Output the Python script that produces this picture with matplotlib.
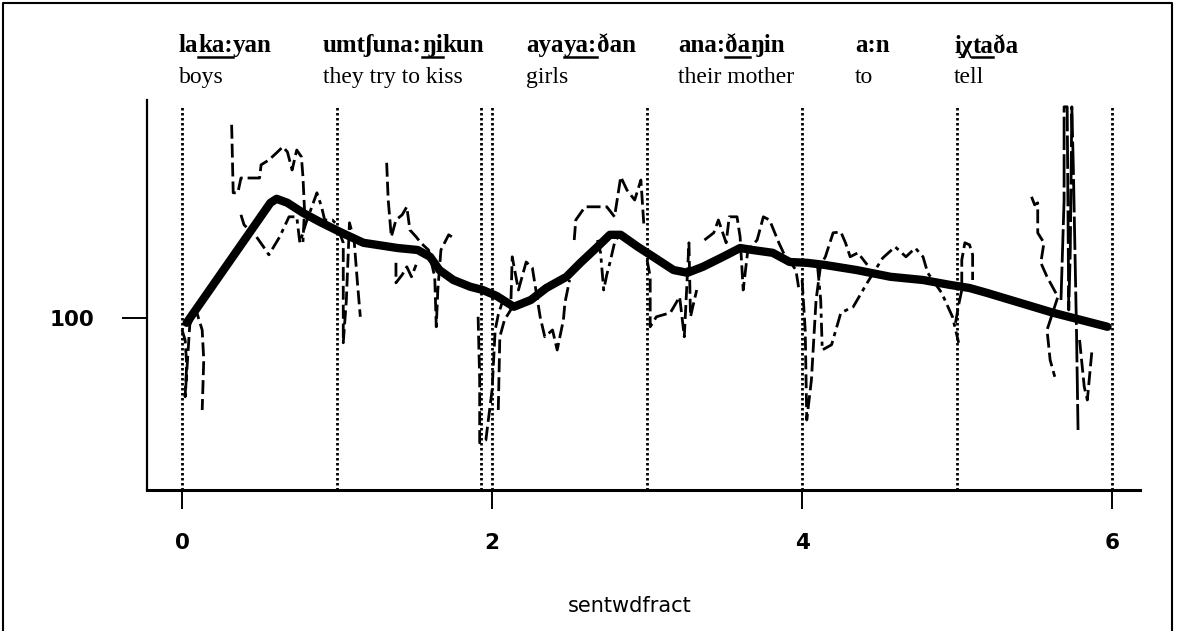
import matplotlib
matplotlib.use('Agg')
import matplotlib.pyplot as plt
from matplotlib.lines import Line2D

# word boundaries (sentence word fraction) and header text
boundaries = [0.0, 1.0, 1.93, 2.0, 3.0, 4.0, 5.0, 6.0]
words = [('la', 'ka:', 'yan'), ('umtʃuna:', 'ŋi', 'kun'), ('aya', 'ya:', 'ðan'),
         ('ana:', 'ða', 'ŋin'), ('a:n', '', ''), ('i̧χ', 'ta', 'ða')]
glosses = ['boys', 'they try to kiss', 'girls', 'their mother', 'to', 'tell']
word_x = [-0.02, 0.91, 2.22, 3.20, 4.34, 4.98]

# smoothed F0 contour
smooth_x = [0.03, 0.48, 0.57, 0.61, 0.68, 0.78, 0.89, 1.02, 1.17, 1.39, 1.52, 1.60,
            1.66, 1.75, 1.86, 1.94, 2.03, 2.14, 2.25, 2.35, 2.48, 2.57, 2.68, 2.76,
            2.83, 2.94, 3.04, 3.17, 3.26, 3.36, 3.49, 3.60, 3.68, 3.81, 3.92, 4.03,
            4.14, 4.35, 4.57, 4.78, 4.95, 5.08, 5.19, 5.62, 5.97]
smooth_y = [98.8, 123.8, 128.8, 129.8, 128.8, 126.3, 124.0, 121.5, 118.8, 117.5, 117.0, 115.3,
            112.0, 109.5, 107.8, 107.0, 105.5, 102.8, 104.5, 107.5, 110.3, 113.8, 117.8, 120.8,
            120.8, 117.8, 115.3, 112.0, 111.3, 112.8, 115.3, 117.5, 117.0, 116.3, 114.0, 113.8,
            113.3, 112.0, 110.3, 109.5, 108.3, 107.5, 106.3, 101.3, 97.8]

# raw F0 traces (dashed)
dash_x = [
    [0.0, 0.02, 0.03, 0.02, 0.05, 0.09, 0.13, 0.14, 0.13],
    [0.32, 0.33, 0.36, 0.38, 0.50, 0.51, 0.56, 0.61, 0.65, 0.68, 0.71, 0.74, 0.77, 0.78, 0.79, 0.78],
    [1.01, 1.04, 1.04, 1.06, 1.08, 1.11, 1.13, 1.15],
    [1.32, 1.33, 1.35, 1.38, 1.42, 1.45, 1.47, 1.51, 1.54, 1.59, 1.63, 1.64, 1.65, 1.67, 1.72, 1.74],
    [1.38, 1.38, 1.42, 1.45, 1.48, 1.51],
    [1.91, 1.92, 1.92, 1.96, 2.0, 2.02, 2.04, 2.07],
    [2.04, 2.05, 2.08, 2.12, 2.13, 2.17, 2.22, 2.26, 2.31, 2.34, 2.39, 2.42, 2.46, 2.47, 2.5],
    [2.53, 2.54, 2.60, 2.68, 2.74, 2.79, 2.83, 2.87, 2.92, 2.96, 2.98],
    [3.0, 3.02, 3.02, 3.06, 3.15, 3.21, 3.24, 3.27, 3.28, 3.32],
    [3.37, 3.43, 3.46, 3.51, 3.53, 3.58, 3.60, 3.62, 3.65, 3.71, 3.75, 3.79, 3.85, 3.88, 3.96, 3.98],
    [4.0, 4.02, 4.03, 4.06, 4.09, 4.12, 4.15, 4.20, 4.25, 4.28, 4.31, 4.36, 4.42],
    [4.99, 5.01, 5.03, 5.03, 5.05, 5.08, 5.10, 5.10],
    [5.48, 5.50, 5.52, 5.52, 5.56, 5.54, 5.58, 5.65, 5.58, 5.60, 5.63],
    [5.79, 5.82, 5.84, 5.87],
]
dash_y = [
    [97.0, 94.5, 88.3, 80.3, 98.3, 102.0, 97.0, 89.5, 77.0],
    [148.3, 131.3, 131.3, 135.0, 135.0, 138.3, 139.5, 141.3, 142.8, 141.5, 137.0, 142.0, 140.3, 135.3, 127.0, 119.0],
    [122.0, 118.8, 93.8, 104.5, 123.8, 119.5, 109.5, 100.3],
    [138.8, 129.5, 120.3, 124.5, 125.8, 127.8, 122.0, 120.3, 118.8, 117.0, 110.3, 97.8, 107.0, 117.0, 120.8, 120.3],
    [113.8, 108.8, 110.8, 112.8, 110.3, 113.3],
    [100.3, 84.5, 68.8, 69.5, 82.0, 97.0, 100.8, 104.5],
    [77.0, 95.3, 99.5, 102.0, 115.3, 107.0, 114.0, 112.5, 100.3, 95.3, 97.0, 92.0, 99.5, 103.8, 109.5],
    [119.5, 124.5, 127.8, 127.8, 127.8, 125.3, 135.3, 132.0, 129.5, 134.5, 122.8],
    [114.5, 110.3, 97.8, 100.3, 101.3, 105.3, 95.3, 118.8, 100.3, 107.0],
    [119.5, 121.3, 124.5, 118.8, 125.3, 125.3, 120.3, 107.0, 117.0, 119.5, 125.3, 124.5, 118.8, 116.3, 112.0, 107.0],
    [109.5, 97.0, 74.5, 84.5, 104.5, 113.3, 115.3, 121.3, 121.5, 118.8, 115.3, 116.3, 113.3],
    [98.8, 103.3, 107.0, 114.5, 118.8, 118.3, 115.8, 109.5],
    [130.3, 128.3, 128.8, 121.3, 118.8, 113.8, 110.3, 105.3, 97.0, 89.5, 85.3],
    [94.5, 82.8, 79.5, 92.0],
]

# raw F0 traces (dash-dot)
dashdot_x = [
    [0.38, 0.40, 0.48, 0.54, 0.56, 0.63, 0.69, 0.74, 0.76, 0.80, 0.87, 0.90, 0.92, 0.97, 1.0],
    [2.68, 2.70, 2.72, 2.74, 2.76, 2.79, 2.82],
    [4.10, 4.12, 4.13, 4.19, 4.25, 4.33, 4.42, 4.52, 4.60, 4.67, 4.73, 4.78, 4.81, 4.90, 4.97, 5.01],
]
dashdot_y = [
    [125.8, 123.3, 120.3, 117.0, 115.8, 120.3, 125.3, 125.3, 118.8, 123.8, 131.3, 127.8, 124.5, 124.5, 123.3],
    [119.5, 116.3, 107.0, 110.8, 113.8, 118.8, 120.8],
    [112.8, 104.5, 92.0, 93.3, 101.3, 102.8, 108.8, 115.0, 117.8, 115.3, 117.5, 115.3, 111.3, 106.3, 100.3, 93.8],
]

# near-solid spike at the end of the last word
spike_x = [5.67, 5.69, 5.69, 5.71, 5.72, 5.73, 5.74, 5.75, 5.77, 5.78]
spike_y = [104.5, 129.5, 152.8, 152.8, 102.0, 117.0, 152.8, 137.0, 97.0, 72.0]

fig = plt.figure(figsize=(11.77, 6.31), dpi=100)
ax = fig.add_axes([0.1249, 0.2235, 0.8437, 0.618])

ax.vlines(boundaries, 57, 153, colors='black', linestyles=(0, (0.9, 0.9)), linewidth=2.0)

for xs, ys in zip(dash_x, dash_y):
    ax.plot(xs, ys, color='black', lw=2.0, linestyle=(0, (5, 1.8)))
for xs, ys in zip(dashdot_x, dashdot_y):
    ax.plot(xs, ys, color='black', lw=2.0, linestyle=(0, (5, 1.8, 1.5, 1.8)))
ax.plot(spike_x, spike_y, color='black', lw=2.0, linestyle=(0, (12, 1.5)))

ax.plot(smooth_x, smooth_y, color='black', lw=6, solid_capstyle='round',
        solid_joinstyle='round')

ax.set_xlim(-0.226, 6.18)
ax.set_ylim(57, 154.5)
ax.set_xticks([0, 2, 4, 6])
ax.set_yticks([100])
ax.spines['top'].set_visible(False)
ax.spines['right'].set_visible(False)
ax.spines['left'].set_linewidth(1.6)
ax.spines['bottom'].set_linewidth(2.2)
ax.tick_params(axis='x', direction='out', length=14, width=1.4, pad=17, labelsize=15.5)
ax.tick_params(axis='y', direction='out', length=18, width=1.4, pad=20, labelsize=15.5)
for lab in ax.get_xticklabels() + ax.get_yticklabels():
    lab.set_family('DejaVu Sans')
    lab.set_fontweight('bold')
fig.text(630 / 1177, 1 - 606 / 631, 'sentwdfract', fontsize=15, family='DejaVu Sans',
         ha='center', va='center')

# header: transcription (bold serif, stressed syllable underlined) and glosses
serif = 'Liberation Serif'
under_parts = []
for (pre, mid, post), gl, wx in zip(words, glosses, word_x):
    t0 = ax.text(wx, 1.122, pre, transform=ax.get_xaxis_transform(), family=serif,
                 fontweight='bold', fontsize=18, va='baseline')
    t1 = ax.annotate(mid, xy=(1, 0), xycoords=t0, va='bottom', family=serif,
                     fontweight='bold', fontsize=18)
    t2 = ax.annotate(post, xy=(1, 0), xycoords=t1, va='bottom', family=serif,
                     fontweight='bold', fontsize=18)
    if mid:
        under_parts.append(t1)
    ax.text(wx, 1.044, gl, transform=ax.get_xaxis_transform(), family=serif,
            fontsize=17, va='baseline')

fig.canvas.draw()
r = fig.canvas.get_renderer()
W, H = fig.bbox.width, fig.bbox.height
for t in under_parts:
    bb = t.get_window_extent(r)
    y = bb.y0 + 0.5
    fig.add_artist(Line2D([bb.x0 / W, bb.x1 / W], [y / H, y / H], color='black', lw=1.8))

# outer frame
fig.add_artist(Line2D([3 / W, 3 / W, 1172 / W, 1172 / W], [0, 1 - 3 / H, 1 - 3 / H, 0],
                      color='black', lw=1.5))

fig.savefig('out.png', dpi=100)
